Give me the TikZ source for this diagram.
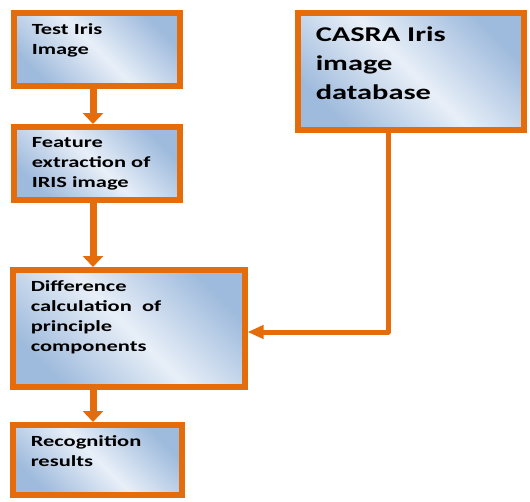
\documentclass[tikz,border=0pt]{standalone}
\usepackage{fontspec}
\usepackage{xcolor}
\usepackage{tikz}
\usetikzlibrary{arrows.meta, positioning, shadows, calc}
\newfontfamily\boxfont{Carlito}[FakeStretch=1.45]
\definecolor{corange}{RGB}{228,108,10}
\definecolor{cdark}{RGB}{158,186,220}
\definecolor{clight}{RGB}{232,239,248}
\newcommand{\blocktext}[3]{\parbox[t][#2][t]{#1}{#3}}

\begin{document}
\begin{tikzpicture}[
    x=1pt, y=-1pt,
    block/.style={rectangle, draw=corange, line width=5.5pt, anchor=north west,
        inner xsep=18pt, inner ysep=11pt, align=left,
        left color=cdark, right color=cdark, middle color=clight, shading angle=-45,
        drop shadow={shadow xshift=3pt, shadow yshift=-3pt, fill=black!50, opacity=0.5},
        font=\boxfont\bfseries\fontsize{15.5}{20}\selectfont},
    flow/.style={draw=corange, line width=7pt, -{Triangle[width=20pt,length=11pt]}},
    link/.style={draw=corange, line width=5pt, line join=round,
        -{Triangle[width=13pt,length=16pt]}},
]
    \path[use as bounding box, fill=white] (0,0) rectangle (530,501);

    % Left column
    \node[block] (test) at (11,10) {\blocktext{130pt}{51pt}{Test Iris\\Image}};
    \node[block] (feat) at (11,124) {\blocktext{130pt}{51pt}{Feature\\extraction of\\IRIS image}};
    \node[block] (diff) at (10,267) {\blocktext{196pt}{95pt}{Difference\\calculation\ \ of\\principle\\components}};
    \node[block] (recog) at (10,422) {\blocktext{133pt}{48pt}{Recognition\\results}};

    % Database
    \node[block, inner ysep=14pt, font=\boxfont\bfseries\fontsize{21}{29}\selectfont] (casra) at (295,10)
        {\blocktext{190pt}{89pt}{CASRA Iris\\image\\database}};

    % Connectors
    \coordinate (spine) at (93,0);
    \coordinate (dbturn) at (388,332);
    \draw[flow] (test.south -| spine) -- (feat.north -| spine);
    \draw[flow] (feat.south -| spine) -- (diff.north -| spine);
    \draw[flow] (diff.south -| spine) -- (recog.north -| spine);
    \draw[link] (casra.south -| dbturn) |- (diff.east |- dbturn);
\end{tikzpicture}
\end{document}
